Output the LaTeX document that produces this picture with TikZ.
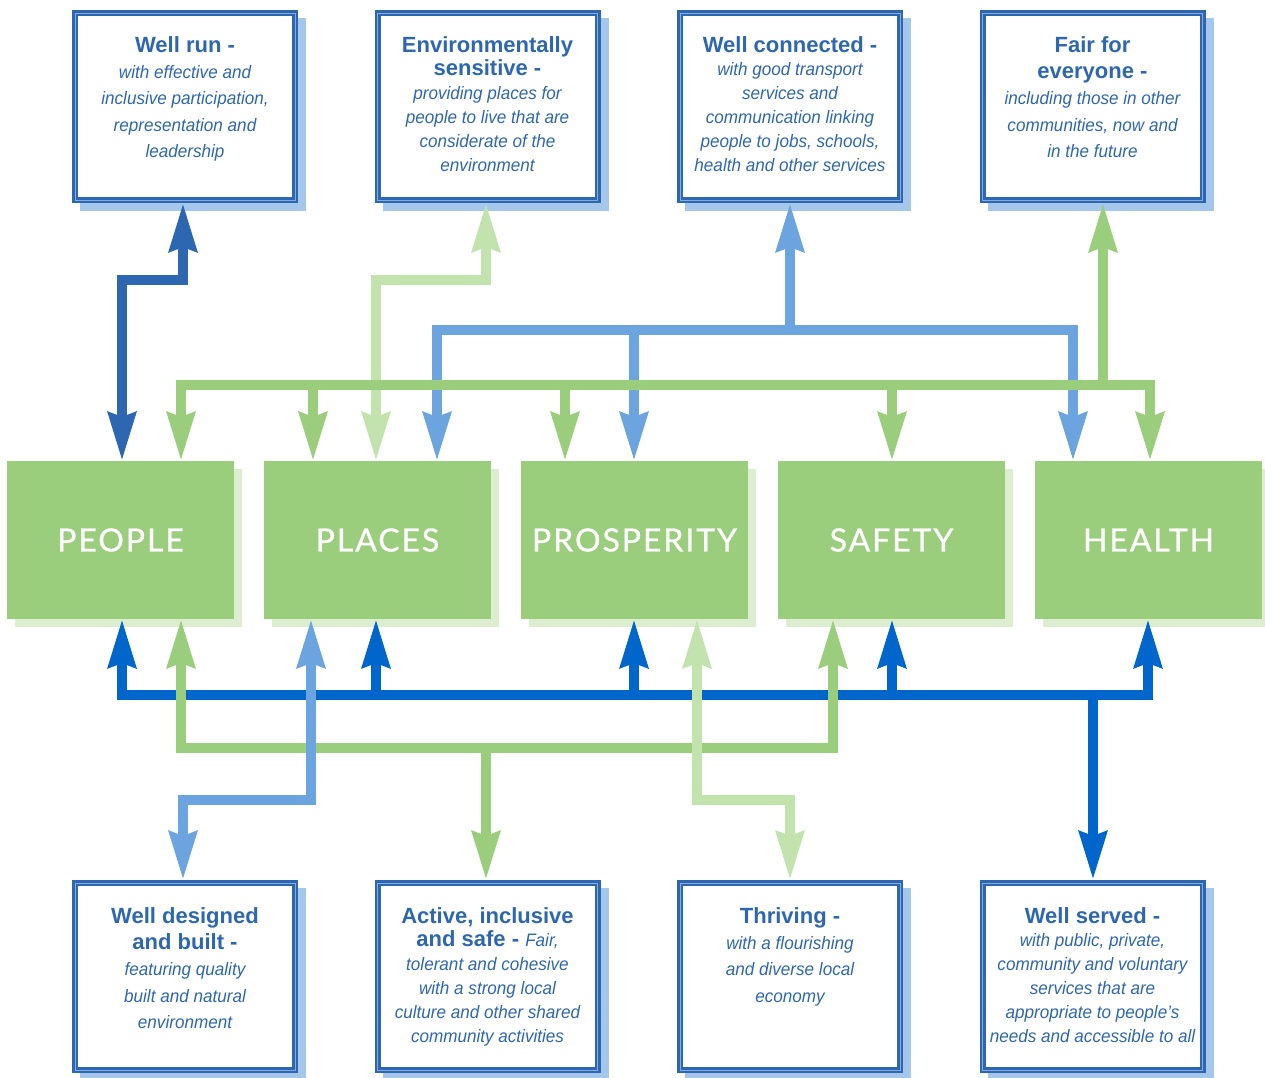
\documentclass[tikz,border=0pt]{standalone}
\usepackage{fontspec}
\setmainfont{Liberation Sans}[ItalicFeatures={FakeStretch=0.95}]
\newfontfamily\labfont[LetterSpace=6,FakeBold=0.8]{Lato}
\usetikzlibrary{arrows.meta}
\definecolor{boxblue}{HTML}{2E67B1}
\definecolor{innerblue}{HTML}{86ABDD}
\definecolor{shadowblue}{HTML}{A5C7EB}
\definecolor{boxgreen}{HTML}{9ACD7C}
\definecolor{gshadow}{HTML}{DCEDD0}
\definecolor{lgreen}{HTML}{C2E2AE}
\definecolor{lblue}{HTML}{6BA4DE}
\definecolor{sblue}{HTML}{0066CC}
\newcommand\firstln{\rule{0pt}{18pt}}
\newcommand\ttl[1]{{\upshape\bfseries\fontsize{22pt}{22pt}\selectfont #1}}
\newcommand\mkTopBox[3]{%
  \fill[shadowblue] (#2-105,#3-88.5) rectangle (#2+121,#3+104.5);
  \node[topbox] (#1) at (#2,#3) {};}
\newcommand\mkGreenBox[4]{%
  \fill[gshadow] (#2-105.5,#3-71) rectangle (#2+121.5,#3+87);
  \node[gbox] (#1) at (#2,#3) {#4};}
\begin{document}
\begin{tikzpicture}[x=1pt,y=-1pt,
  topbox/.style={draw=boxblue, double=innerblue, double distance=1pt, line width=2.5pt,
    fill=white, minimum width=220pt, minimum height=187pt, inner sep=0pt, outer sep=3pt},
  gbox/.style={fill=boxgreen, minimum width=227pt, minimum height=158pt, inner sep=0pt,
    outer sep=0pt, text=white, font=\labfont\fontsize{32pt}{32pt}\selectfont},
  descA/.style={text=boxblue, align=center, inner sep=0pt, anchor=north,
    font=\fontsize{18pt}{26.3pt}\selectfont\itshape},
  descB/.style={text=boxblue, align=center, inner sep=0pt, anchor=north,
    font=\fontsize{18pt}{24pt}\selectfont\itshape},
  conn/.style={line width=10pt, line join=miter},
  >={Stealth[width=27pt,length=48pt,inset=4pt]}]
\useasboundingbox (0,0) rectangle (1265,1077);
\fill[white] (0,0) rectangle (1265,1077);

% top boxes
\mkTopBox{t1}{185}{106.5}
\mkTopBox{t2}{487.5}{106.5}
\mkTopBox{t3}{790}{106.5}
\mkTopBox{t4}{1092.5}{106.5}
% bottom boxes
\mkTopBox{b1}{185}{976.5}
\mkTopBox{b2}{487.5}{976.5}
\mkTopBox{b3}{790}{976.5}
\mkTopBox{b4}{1092.5}{976.5}
% green boxes
\mkGreenBox{people}{120.5}{540}{PEOPLE}
\mkGreenBox{places}{377.5}{540}{PLACES}
\mkGreenBox{prosperity}{634.5}{540}{PROSPERITY}
\mkGreenBox{safety}{891.5}{540}{SAFETY}
\mkGreenBox{health}{1148.5}{540}{HEALTH}

% texts top
\node[descA] (t1x) at (185,34) {\firstln\ttl{Well run -}\\with effective and\\inclusive participation,\\representation and\\leadership};
\node[descB] (t2x) at (487.5,34) {\firstln\ttl{Environmentally}\\[-1pt]\ttl{sensitive -}\\providing places for\\people to live that are\\considerate of the\\environment};
\node[descB] (t3x) at (790,34) {\firstln\ttl{Well connected -}\\[-1pt]with good transport\\services and\\communication linking\\people to jobs, schools,\\health and other services};
\node[descA] (t4x) at (1092.5,34) {\firstln\ttl{Fair for}\\\ttl{everyone -}\\including those in other\\communities, now and\\in the future};
% texts bottom
\node[descA] (b1x) at (185,905) {\firstln\ttl{Well designed}\\\ttl{and built -}\\featuring quality\\built and natural\\environment};
\node[descB] (b2x) at (487.5,905) {\firstln\ttl{Active, inclusive}\\[-1pt]\ttl{and safe - }Fair,\\tolerant and cohesive\\with a strong local\\culture and other shared\\community activities};
\node[descA] (b3x) at (790,905) {\firstln\ttl{Thriving -}\\with a flourishing\\and diverse local\\economy};
\node[descB] (b4x) at (1092.5,905) {\firstln\ttl{Well served -}\\[-1pt]with public, private,\\community and voluntary\\services that are\\appropriate to people's\\needs and accessible to all};

% junction coordinates
\coordinate (r1) at (183,280); \coordinate (r2) at (122,280);
\coordinate (e1) at (486,280); \coordinate (e2) at (376,280);
\coordinate (c0) at (790,330); \coordinate (cL) at (437,330); \coordinate (cM) at (634,330); \coordinate (cR) at (1073,330);
\coordinate (f0) at (1103,385); \coordinate (fL) at (181,385); \coordinate (f2) at (313,385);
\coordinate (f3) at (565,385); \coordinate (f4) at (892,385); \coordinate (fR) at (1150,385);
\coordinate (s0) at (1093,695); \coordinate (sL) at (122,695); \coordinate (s2) at (376,695);
\coordinate (s3) at (634,695); \coordinate (s4) at (892,695); \coordinate (sR) at (1148,695);
\coordinate (aL) at (181,748); \coordinate (aR) at (833,748); \coordinate (a0) at (486,748);
\coordinate (d1) at (311,800); \coordinate (d2) at (183,800);
\coordinate (h1) at (697,800); \coordinate (h2) at (790,800);

% top connectors
\draw[conn,boxblue,<->] (t1.south -| r1) -- (r1) -- (r2) -- (people.north -| r2);
\draw[conn,lblue,<->] (places.north -| cL) -- (cL) -- (cR) -- (health.north -| cR);
\draw[conn,lblue,->] (cM) -- (prosperity.north -| cM);
\draw[conn,lblue,->] (c0) -- (t3.south -| c0);
\draw[conn,lgreen,<->] (t2.south -| e1) -- (e1) -- (e2) -- (places.north -| e2);
\draw[conn,boxgreen,<->] (people.north -| fL) -- (fL) -- (fR) -- (health.north -| fR);
\draw[conn,boxgreen,->] (f2) -- (places.north -| f2);
\draw[conn,boxgreen,->] (f3) -- (prosperity.north -| f3);
\draw[conn,boxgreen,->] (f4) -- (safety.north -| f4);
\draw[conn,boxgreen,->] (f0) -- (t4.south -| f0);

% bottom connectors
\draw[conn,sblue,<->] (people.south -| sL) -- (sL) -- (sR) -- (health.south -| sR);
\draw[conn,sblue,->] (s2) -- (places.south -| s2);
\draw[conn,sblue,->] (s3) -- (prosperity.south -| s3);
\draw[conn,sblue,->] (s4) -- (safety.south -| s4);
\draw[conn,sblue,->] (s0) -- (b4.north -| s0);
\draw[conn,boxgreen,<->] (people.south -| aL) -- (aL) -- (aR) -- (safety.south -| aR);
\draw[conn,boxgreen,->] (a0) -- (b2.north -| a0);
\draw[conn,lblue,<->] (places.south -| d1) -- (d1) -- (d2) -- (b1.north -| d2);
\draw[conn,lgreen,<->] (prosperity.south -| h1) -- (h1) -- (h2) -- (b3.north -| h2);
\end{tikzpicture}
\end{document}
